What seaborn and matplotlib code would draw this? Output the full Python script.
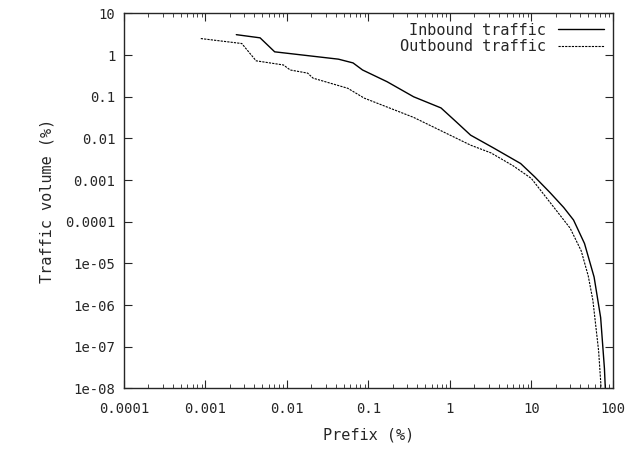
import matplotlib
matplotlib.use('Agg')
import matplotlib.pyplot as plt
import seaborn as sns
import pandas as pd
from matplotlib.ticker import FixedLocator, FixedFormatter, LogLocator, NullFormatter

in_x = [0.0024, 0.0047, 0.0071, 0.043, 0.065, 0.085, 0.17, 0.36, 0.78, 1.2, 1.8, 3.5, 7.4, 11, 17, 25, 33,
        45, 59, 71, 79, 81]
in_y = [3.1, 2.6, 1.2, 0.8, 0.65, 0.44, 0.23, 0.1, 0.054, 0.025, 0.012, 0.0058, 2.5e-3, 1.2e-3, 5e-4,
        2.2e-4, 1.1e-4, 3e-5, 4.7e-6, 5e-7, 3e-8, 1e-8]
out_x = [0.00088, 0.0028, 0.0042, 0.0091, 0.011, 0.018, 0.021, 0.056, 0.089, 0.36, 1.8, 3.2, 6, 10, 19,
         30, 41, 50, 57, 67, 72]
out_y = [2.5, 1.9, 0.73, 0.58, 0.44, 0.37, 0.28, 0.16, 0.093, 0.032, 0.0069, 0.0045, 0.0022, 0.0011,
         2.2e-4, 7e-5, 2e-5, 5e-6, 1.3e-6, 8e-8, 1e-8]

sns.set_style('ticks')
plt.rcParams['font.family'] = ['DejaVu Sans Mono']

fig, ax = plt.subplots(figsize=(6.35, 4.49), dpi=100)
sns.lineplot(data=pd.DataFrame({'x': in_x, 'y': in_y}), x='x', y='y', ax=ax,
             color='black', lw=1.0, label='Inbound traffic', sort=False)
sns.lineplot(data=pd.DataFrame({'x': out_x, 'y': out_y}), x='x', y='y', ax=ax,
             color='black', lw=0.8, ls=(0, (2, 1)), label='Outbound traffic', sort=False)
ax.set_xscale('log')
ax.set_yscale('log')
ax.set_xlim(1e-4, 100)
ax.set_ylim(1e-8, 10)

xt = [1e-4, 1e-3, 1e-2, 1e-1, 1, 10, 100]
ax.xaxis.set_major_locator(FixedLocator(xt))
ax.xaxis.set_major_formatter(FixedFormatter(['0.0001', '0.001', '0.01', '0.1', '1', '10', '100']))
yt = [10.0 ** e for e in range(-8, 2)]
ax.yaxis.set_major_locator(FixedLocator(yt))
ax.yaxis.set_major_formatter(FixedFormatter(['1e-08', '1e-07', '1e-06', '1e-05', '0.0001',
                                             '0.001', '0.01', '0.1', '1', '10']))
for a in (ax.xaxis, ax.yaxis):
    a.set_minor_locator(LogLocator(subs=range(2, 10)))
    a.set_minor_formatter(NullFormatter())
ax.tick_params(which='both', direction='in', top=True, right=True, labelsize=10)
ax.tick_params(which='major', length=6)
ax.tick_params(which='minor', length=3)
ax.tick_params(axis='x', which='major', pad=10)
ax.tick_params(axis='y', which='major', pad=6)
for s in ax.spines.values():
    s.set_linewidth(1.0)
ax.set_xlabel('Prefix (%)', fontsize=11, labelpad=8)
ax.set_ylabel('Traffic volume (%)', fontsize=11, labelpad=8)
ax.legend(loc='upper right', frameon=False, fontsize=11, markerfirst=False, handlelength=3,
          borderaxespad=0.2, labelspacing=0.1)
fig.subplots_adjust(left=0.195, right=0.965, top=0.97, bottom=0.135)
fig.savefig('out.png')
